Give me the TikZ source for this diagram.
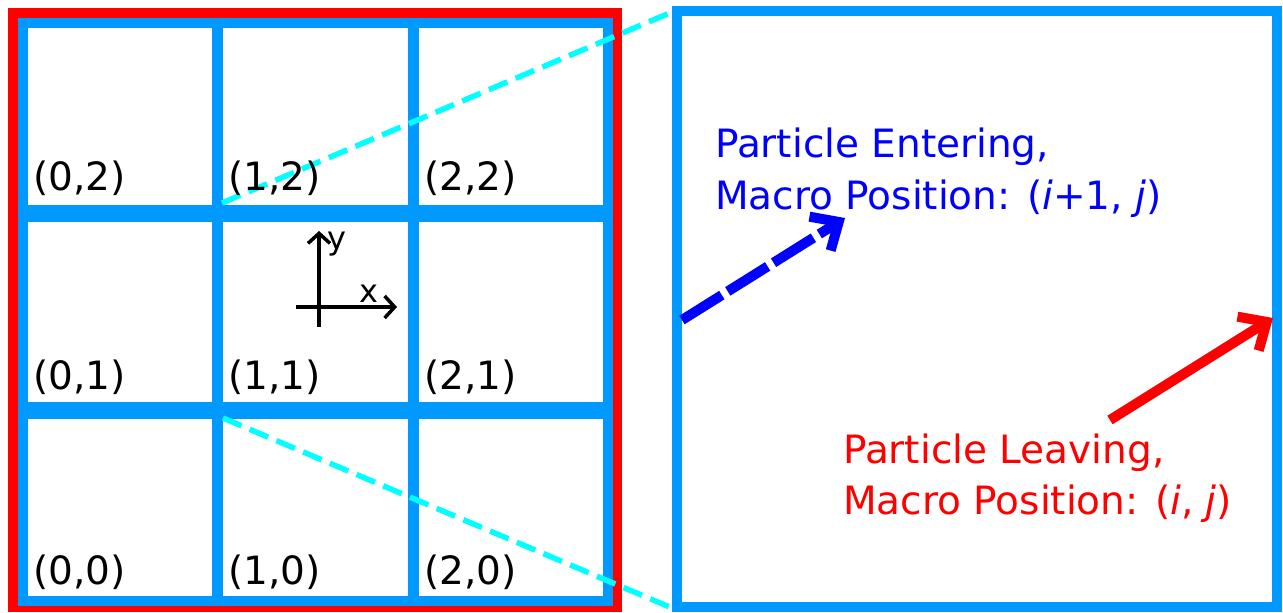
\documentclass[tikz,border=0pt]{standalone}
\usepackage{fontspec}
\setmainfont{DejaVu Sans}
\usetikzlibrary{arrows.meta}
\definecolor{gridblue}{RGB}{0,153,255}
\definecolor{txtblue}{RGB}{0,0,255}
\definecolor{cyanline}{RGB}{0,255,255}
\tikzset{
  redframe/.style={draw=red, line width=10pt},
  bluevert/.style={draw=gridblue, line width=10.5pt},
  bluehor/.style={draw=gridblue, line width=17pt},
  blueframe/.style={draw=gridblue, line width=10pt},
  zoomline/.style={draw=cyanline, line width=5.5pt, dash pattern=on 20pt off 9pt},
  celllabel/.style={anchor=base west, inner sep=0pt, font=\fontsize{39}{47}\selectfont},
  axislabel/.style={anchor=base west, inner sep=0pt, font=\fontsize{32}{38}\selectfont},
  axisarrow/.style={draw=black, line width=3.5pt, -{Straight Barb[length=10pt,width=22pt]}},
  bigarrow/.style={line width=10pt, -{Straight Barb[length=22pt,width=40pt]}},
  notelabel/.style={anchor=base west, inner sep=0pt, font=\fontsize{39}{47}\selectfont}
}
\begin{document}
\begin{tikzpicture}[x=1pt,y=-1pt]
\useasboundingbox (0,0) rectangle (1283,613);
\fill[white] (0,0) rectangle (1283,613);
% red outer frame
\draw[redframe] (13,13) rectangle (617,607);
% blue grid
\draw[bluevert] (217.5,23) -- (217.5,600);
\draw[bluevert] (413.5,23) -- (413.5,600);
\draw[bluehor] (23,213.5) -- (607,213.5);
\draw[bluehor] (23,410) -- (607,410);
\draw[blueframe] (23,23) rectangle (607.5,600.5);
% right zoom box
\draw[blueframe] (677,11) rectangle (1277,607);
% coordinates for zoom lines
\coordinate (cTL) at (222,203);
\coordinate (cBL) at (223,418);
\coordinate (zTL) at (672,12);
\coordinate (zBL) at (672,608);
\draw[zoomline] (cTL) -- (zTL);
\draw[zoomline] (cBL) -- (zBL);
% cell labels
\node[celllabel] (l02) at (33,190) {(0,2)};
\node[celllabel] (l12) at (228,190) {(1,2)};
\node[celllabel] (l22) at (424,190) {(2,2)};
\node[celllabel] (l01) at (33,389) {(0,1)};
\node[celllabel] (l11) at (228,389) {(1,1)};
\node[celllabel] (l21) at (424,389) {(2,1)};
\node[celllabel] (l00) at (33,584) {(0,0)};
\node[celllabel] (l10) at (228,584) {(1,0)};
\node[celllabel] (l20) at (424,584) {(2,0)};
% axes
\coordinate (yb) at (319,327);
\coordinate (yt) at (319,231);
\coordinate (xl) at (296,307);
\coordinate (xr) at (397,307);
\draw[axisarrow] (yb) -- (yt);
\draw[axisarrow] (xl) -- (xr);
\node[axislabel] (ylab) at (327,249) {y};
\node[axislabel] (xlab) at (359,302) {x};
% arrows
\coordinate (bs) at (682,320);
\coordinate (be) at (845,218);
\coordinate (rs) at (1110,420);
\coordinate (re) at (1273,318);
\draw[bigarrow, draw=txtblue, dash pattern=on 47pt off 7pt] (bs) -- (be);
\draw[bigarrow, draw=red] (rs) -- (re);
% notes
\node[notelabel, text=txtblue] (enter1) at (715,157) {Particle Entering,};
\node[notelabel, text=txtblue] (enter2) at (715,209) {Macro Position: (\textit{i}+1, \textit{j})};
\node[notelabel, text=red] (leave1) at (843,463) {Particle Leaving,};
\node[notelabel, text=red] (leave2) at (843,514) {Macro Position: (\textit{i}, \textit{j})};
\end{tikzpicture}
\end{document}
